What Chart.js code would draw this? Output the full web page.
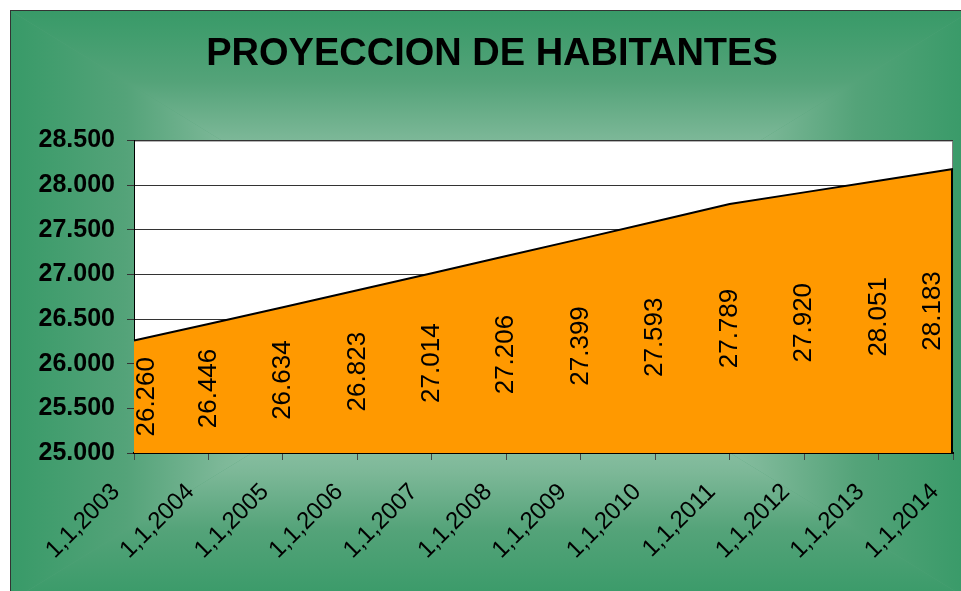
<!DOCTYPE html>
<html>
<head>
<meta charset="utf-8">
<script src="https://cdn.jsdelivr.net/npm/chart.js@4/dist/chart.umd.min.js"></script>
<style>
  html, body { margin: 0; padding: 0; background: #fff; overflow: hidden; }
  .frame {
    position: absolute; left: 10px; top: 10px;
    width: 960px; height: 590px;
    border: 1px solid #333;
    background: #389a68;
  }
  .chart-box { position: relative; width: 960px; height: 590px; }
</style>
</head>
<body>
<div class="frame">
  <div class="chart-box"><canvas id="chart"></canvas></div>
</div>
<script>
const title = 'PROYECCION DE HABITANTES';
const labels = ['1,1,2003', '1,1,2004', '1,1,2005', '1,1,2006', '1,1,2007', '1,1,2008',
                '1,1,2009', '1,1,2010', '1,1,2011', '1,1,2012', '1,1,2013', '1,1,2014'];
const habitantes = [26260, 26446, 26634, 26823, 27014, 27206, 27399, 27593, 27789, 27920, 28051, 28183];
const yMin = 25000;
const yMax = 28500;
const yStep = 500;

const FONT = '"Liberation Sans", Arial, sans-serif';

// "from center" fill like the spreadsheet chart: edge green -> light centre
const bgStops = [[0, '#389a68'], [0.24, '#54a379'], [0.44, '#7db898'], [0.7, '#a3ceb6'], [1, '#b8dcc7']];

function fmt(v) {
  return String(Math.round(v)).replace(/\B(?=(\d{3})+(?!\d))/g, '.');
}

function rectGradient(ctx, w, h) {
  const cx = w / 2, cy = h / 2;
  const parts = [
    [[0, 0], [w, 0], 0, 0, 0, cy],
    [[w, h], [0, h], 0, h, 0, cy],
    [[0, h], [0, 0], 0, 0, cx, 0],
    [[w, 0], [w, h], w, 0, cx, 0]
  ];
  ctx.save();
  ctx.fillStyle = bgStops[1][1];
  ctx.fillRect(0, 0, w, h);
  parts.forEach(([p1, p2, x0, y0, x1, y1]) => {
    const g = ctx.createLinearGradient(x0, y0, x1, y1);
    bgStops.forEach(([o, c]) => g.addColorStop(o, c));
    ctx.fillStyle = g;
    ctx.beginPath();
    ctx.moveTo(p1[0], p1[1]);
    ctx.lineTo(p2[0], p2[1]);
    ctx.lineTo(cx, cy);
    ctx.closePath();
    ctx.fill();
  });
  ctx.restore();
}

const areaExtras = {
  id: 'areaExtras',
  beforeDraw(chart) {
    const { ctx, chartArea: a } = chart;
    rectGradient(ctx, chart.width, chart.height);
    ctx.save();
    ctx.fillStyle = '#fff';
    ctx.fillRect(a.left, a.top, a.right - a.left, a.bottom - a.top);
    ctx.strokeStyle = '#808080';
    ctx.lineWidth = 1;
    ctx.strokeRect(a.left + 0.5, a.top + 0.5, a.right - a.left - 1, a.bottom - a.top);
    ctx.restore();
  },
  afterDatasetsDraw(chart) {
    const { ctx, chartArea: a, scales } = chart;
    const meta = chart.getDatasetMeta(0);
    const last = meta.data[meta.data.length - 1];
    const bottom = scales.y.getPixelForValue(yMin);
    ctx.save();
    ctx.strokeStyle = '#000';
    ctx.lineWidth = 2;
    ctx.beginPath();
    ctx.moveTo(last.x - 1, last.y);
    ctx.lineTo(last.x - 1, bottom);
    ctx.stroke();

    ctx.fillStyle = '#000';
    ctx.font = '26px ' + FONT;
    ctx.textAlign = 'center';
    ctx.textBaseline = 'middle';
    meta.data.forEach((pt, i) => {
      const x = Math.max(a.left + 13, Math.min(a.right - 20, pt.x));
      const y = (pt.y + bottom) / 2;
      ctx.save();
      ctx.translate(x, y);
      ctx.rotate(-Math.PI / 2);
      ctx.fillText(fmt(habitantes[i]), 0, 0);
      ctx.restore();
    });
    ctx.restore();
  }
};

new Chart(document.getElementById('chart'), {
  type: 'line',
  data: {
    labels,
    datasets: [{
      data: habitantes,
      backgroundColor: '#ff9900',
      borderColor: '#000',
      borderWidth: 2,
      fill: 'start',
      pointRadius: 0,
      tension: 0
    }]
  },
  options: {
    responsive: true,
    maintainAspectRatio: false,
    animation: false,
    layout: { padding: { left: 20, right: 18, top: 0, bottom: 0 } },
    plugins: {
      legend: { display: false },
      tooltip: { enabled: false },
      title: {
        display: true,
        text: title,
        color: '#000',
        font: { family: FONT, size: 38, weight: 'bold' },
        padding: { top: 21, bottom: 63 }
      }
    },
    scales: {
      x: {
        offset: false,
        border: { color: '#000', width: 2 },
        grid: { drawOnChartArea: false, drawTicks: true, tickLength: 7, color: '#444' },
        ticks: {
          color: '#000',
          font: { family: FONT, size: 24 },
          maxRotation: 45,
          minRotation: 45,
          autoSkip: false,
          padding: 18,
          labelOffset: -18
        },
        afterFit(scale) {
          scale.height = 148;
          scale.paddingLeft = 0;
          scale.paddingRight = 0;
        }
      },
      y: {
        min: yMin,
        max: yMax,
        border: { color: '#000', width: 1 },
        grid: { color: '#333', lineWidth: 1, tickLength: 7 },
        ticks: {
          stepSize: yStep,
          color: '#000',
          font: { family: FONT, size: 25, weight: 'bold' },
          padding: 12,
          callback: v => fmt(v)
        },
        afterFit(scale) { scale.width = 103; }
      }
    }
  },
  plugins: [areaExtras]
});
</script>
</body>
</html>
